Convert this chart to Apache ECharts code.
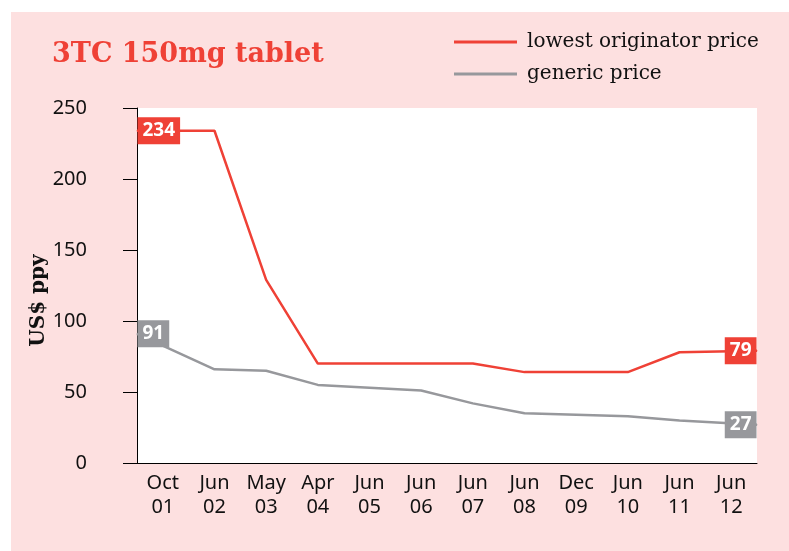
<!DOCTYPE html>
<html>
<head>
<meta charset="utf-8">
<script src="https://cdn.jsdelivr.net/npm/echarts@6/dist/echarts.min.js"></script>
<style>
  html, body { margin: 0; padding: 0; background: #fff; }
  #chart { width: 789px; height: 551px; }
</style>
</head>
<body>
<div id="chart"></div>
<script>
// categories along the bottom
var periods = ['Oct\n01', 'Jun\n02', 'May\n03', 'Apr\n04', 'Jun\n05', 'Jun\n06',
               'Jun\n07', 'Jun\n08', 'Dec\n09', 'Jun\n10', 'Jun\n11', 'Jun\n12'];
// where each observation sits along the period scale (first/last on the edges)
var periodPos = [0, 1.5, 2.5, 3.5, 4.5, 5.5, 6.5, 7.5, 8.5, 9.5, 10.5, 12];
var originatorPrice = [234, 234, 129, 70, 70, 70, 70, 64, 64, 64, 78, 79];
var genericPrice = [91, 66, 65, 55, 53, 51, 42, 35, 34, 33, 30, 27];
var yTicks = [0, 50, 100, 150, 200, 250];

var red = '#ef4136';
var grey = '#97989c';

function buildData(values, color) {
  var out = [];
  for (var i = 0; i < values.length; i++) {
    var item = { value: [periodPos[i], values[i]] };
    if (i === 0 || i === values.length - 1) {
      item.label = {
        show: true,
        position: i === 0 ? 'right' : 'left',
        distance: 0,
        backgroundColor: color,
        color: '#fff',
        fontFamily: 'Noto Sans',
        fontWeight: 'bold',
        fontSize: 19,
        lineHeight: 19,
        padding: [5, 5, 3, 5],
        formatter: '{@[1]}'
      };
    }
    out.push(item);
  }
  return out;
}

var myChart = echarts.init(document.getElementById('chart'));
var option = {
  animation: false,
  backgroundColor: '#fff',
  graphic: [{
    type: 'rect',
    z: -10,
    shape: { x: 11, y: 12, width: 778, height: 539 },
    style: { fill: '#fde0e0' }
  }],
  title: {
    text: '3TC 150mg tablet',
    left: 47,
    top: 36,
    textStyle: {
      color: red,
      fontFamily: 'DejaVu Serif',
      fontWeight: 'bold',
      fontSize: 27
    }
  },
  legend: {
    orient: 'vertical',
    left: 449,
    top: 26,
    itemWidth: 63,
    itemHeight: 3,
    itemGap: 10,
    icon: 'rect',
    data: ['lowest originator price', 'generic price'],
    textStyle: {
      color: '#111',
      fontFamily: 'DejaVu Serif',
      fontSize: 20,
      lineHeight: 22,
      padding: [0, 0, 0, 5]
    }
  },
  grid: {
    left: 137,
    right: 32,
    top: 108,
    bottom: 88,
    show: true,
    backgroundColor: '#fff',
    borderWidth: 0
  },
  xAxis: [{
    type: 'category',
    data: periods,
    boundaryGap: true,
    axisLine: { lineStyle: { color: '#000', width: 1 } },
    axisTick: { length: 8, lineStyle: { color: '#555' } },
    axisLabel: {
      color: '#111',
      fontFamily: 'Noto Sans',
      fontSize: 20,
      lineHeight: 24,
      margin: 8
    },
    splitLine: { show: false }
  }, {
    type: 'value',
    show: false,
    min: 0,
    max: 12
  }],
  yAxis: {
    type: 'value',
    min: yTicks[0],
    max: yTicks[yTicks.length - 1],
    interval: 50,
    name: 'US$ ppy',
    nameLocation: 'middle',
    nameRotate: 90,
    nameGap: 88,
    nameMoveOverlap: false,
    nameTextStyle: {
      color: '#111',
      fontFamily: 'DejaVu Serif',
      fontWeight: 'bold',
      fontSize: 20,
      padding: [0, 30, 0, 0]
    },
    axisLine: { show: true, onZero: false, lineStyle: { color: '#000', width: 1 } },
    axisTick: { show: true, inside: false, length: 14, lineStyle: { color: '#000' } },
    axisLabel: {
      color: '#111',
      fontFamily: 'Noto Sans',
      fontSize: 20,
      margin: 50
    },
    splitLine: { show: false }
  },
  series: [{
    name: 'lowest originator price',
    type: 'line',
    xAxisIndex: 1,
    symbol: 'circle',
    symbolSize: 1,
    color: red,
    lineStyle: { color: red, width: 2.5 },
    data: buildData(originatorPrice, red),
    z: 3
  }, {
    name: 'generic price',
    type: 'line',
    xAxisIndex: 1,
    symbol: 'circle',
    symbolSize: 1,
    color: grey,
    lineStyle: { color: grey, width: 2.5 },
    data: buildData(genericPrice, grey),
    z: 2
  }]
};
myChart.setOption(option);
</script>
</body>
</html>
